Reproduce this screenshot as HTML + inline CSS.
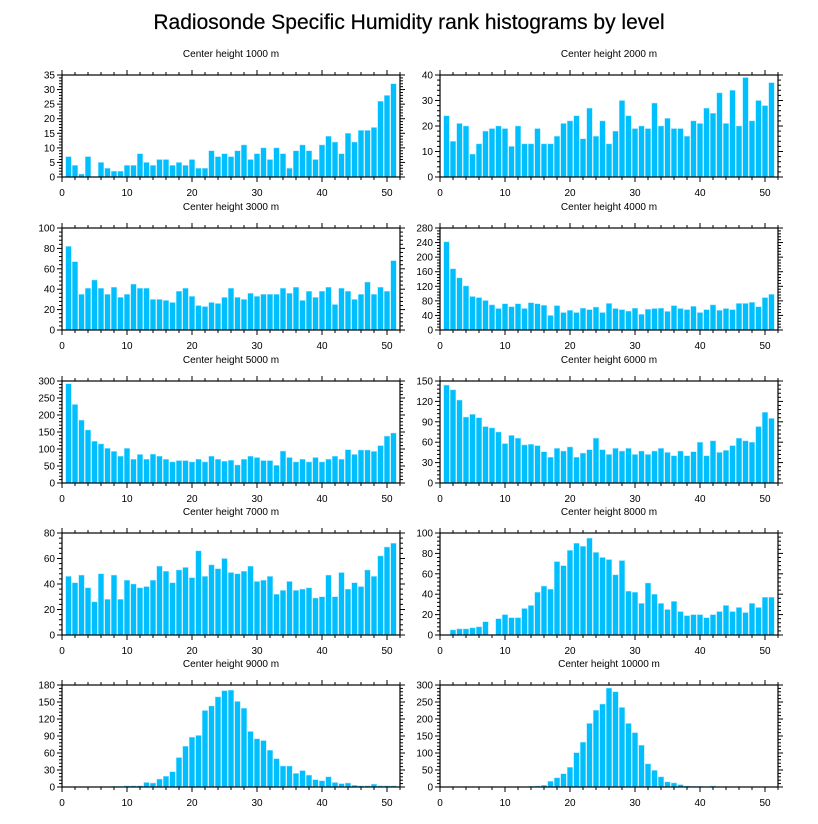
<!DOCTYPE html>
<html><head><meta charset="utf-8"><style>
body{margin:0;background:#fff;}
svg{display:block;font-family:"Liberation Sans",sans-serif;}
</style></head><body>
<svg id="c" width="818" height="824">
<text x="409" y="29" text-anchor="middle" font-size="21" stroke="#000" stroke-width="0.2">Radiosonde Specific Humidity rank histograms by level</text>
</svg>
<script>
const titles=["Center height 1000 m","Center height 2000 m","Center height 3000 m","Center height 4000 m","Center height 5000 m","Center height 6000 m","Center height 7000 m","Center height 8000 m","Center height 9000 m","Center height 10000 m"];
const yMax=[35,40,100,280,300,150,80,100,180,300];
const yStep=[5,10,20,40,50,30,20,20,30,50];
const xTicks=[0,10,20,30,40,50];
const h1000=[7,4,1,7,0,5,3,2,2,4,4,8,5,4,6,6,4,5,4,6,3,3,9,7,8,7,9,11,6,8,10,6,10,8,3,9,11,9,6,11,14,12,8,15,12,16,16,17,26,28,32];
const h2000=[24,14,21,20,9,13,18,19,20,19,12,20,13,13,19,13,13,16,21,22,24,15,27,16,22,13,18,30,24,19,20,19,29,20,23,19,19,16,22,21,27,25,33,21,34,20,39,22,30,28,37];
const h3000=[82,67,35,41,49,41,35,42,32,35,45,41,41,30,30,29,27,38,41,33,24,23,27,26,32,41,32,30,36,33,35,35,35,41,36,42,29,38,32,38,42,25,41,38,30,35,47,35,42,38,68];
const h4000=[242,168,143,121,92,89,81,69,59,72,64,72,59,75,72,68,40,67,48,54,48,60,56,63,48,73,59,56,52,60,43,57,59,60,51,67,59,56,65,48,56,69,54,59,56,73,73,76,64,89,98];
const h5000=[292,231,185,156,123,115,102,93,79,102,70,84,70,85,79,70,62,66,66,62,70,62,79,70,64,67,53,70,79,75,66,66,52,94,75,62,70,62,75,62,70,79,70,98,84,97,97,93,110,138,147];
const h6000=[144,137,122,97,101,96,83,81,75,58,70,66,56,57,55,46,38,51,47,53,38,44,49,66,49,42,51,47,51,42,47,42,47,51,45,40,47,40,46,60,40,62,45,48,55,66,62,60,83,104,95];
const h7000=[46,41,47,37,26,48,28,47,28,43,40,37,38,43,54,50,41,51,53,45,66,46,55,52,60,49,48,50,54,42,43,46,32,35,42,35,36,37,29,30,47,30,49,36,41,38,51,46,62,69,72];
const h8000=[0,5,6,6,7,8,13,0,16,20,17,17,26,29,42,48,45,72,68,83,90,87,95,81,76,74,59,73,43,42,31,51,40,31,25,33,23,19,20,20,17,20,23,29,23,27,22,31,27,37,37];
const h9000=[0,0,0,0,0,0,0,1,1,2,2,2,8,7,14,19,27,52,72,88,91,135,143,159,170,171,151,139,98,85,82,65,50,37,37,24,29,21,13,11,18,8,6,7,3,2,2,5,2,2,2];
const h10000=[0,0,0,0,0,0,0,0,0,0,0,0,0,2,3,5,17,27,39,58,101,132,187,226,244,291,280,234,187,160,123,68,49,30,15,12,7,3,2,2,1,3,0,0,0,0,0,0,0,0,0];
const series=[h1000,h2000,h3000,h4000,h5000,h6000,h7000,h8000,h9000,h10000];

const svg=document.getElementById('c');
const NS='http://www.w3.org/2000/svg';
function mk(tag,attrs,parent){const e=document.createElementNS(NS,tag);for(const k in attrs)e.setAttribute(k,attrs[k]);(parent||svg).appendChild(e);return e;}
const colX=[62,440], rowTop=[75,228,381,533,685], PW=338, PH=102, XMAX=52;
series.forEach((data,p)=>{
  const x0=colX[p%2], y0=rowTop[Math.floor(p/2)];
  const g=mk('g',{});
  
  
  const xs=v=>x0+v/XMAX*PW, ys=v=>y0+PH-v/yMax[p]*PH;
  const t=mk('text',{x:x0+PW/2,y:y0-18,'text-anchor':'middle','font-size':10},g);
  t.textContent=titles[p];
  
  
  data.forEach((v,i)=>{
    const r=mk('rect',{x:xs(i+1-0.43),y:ys(v),width:xs(0.86)-x0,height:ys(0)-ys(v),fill:'#00bfff',stroke:'#a8e6ff','stroke-width':0.5},g);
    
    
  });
  mk('rect',{x:x0,y:y0,width:PW,height:PH,fill:'none',stroke:'#000','stroke-width':1.2},g);
  for(let v=0;v<=XMAX;v+=2){
    const X=xs(v),maj=v%10===0,L=maj?5:3;
    mk('line',{x1:X,y1:y0+PH,x2:X,y2:y0+PH+L,stroke:'#000'},g);
    mk('line',{x1:X,y1:y0,x2:X,y2:y0-L,stroke:'#000'},g);
  }
  xTicks.forEach(v=>{const tx=mk('text',{x:xs(v),y:y0+PH+19,'text-anchor':'middle','font-size':10},g);tx.textContent=v;
    
    });
  const minor=yStep[p]/5;
  for(let k=0;k*minor<=yMax[p]+1e-9;k++){
    const v=k*minor,Y=ys(v),maj=k%5===0,L=maj?5:3;
    mk('line',{x1:x0,y1:Y,x2:x0-L,y2:Y,stroke:'#000'},g);
    mk('line',{x1:x0+PW,y1:Y,x2:x0+PW+L,y2:Y,stroke:'#000'},g);
    if(maj){const ty=mk('text',{x:x0-7,y:Y+3.5,'text-anchor':'end','font-size':10},g);ty.textContent=v;
      
      }
  }
});
</script>
</body></html>
